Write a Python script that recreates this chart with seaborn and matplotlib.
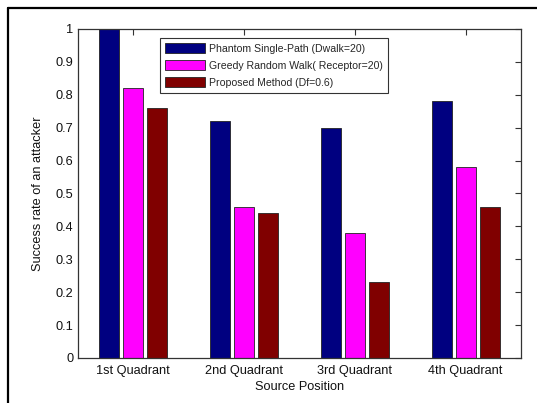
import matplotlib
matplotlib.use("Agg")
import matplotlib.pyplot as plt
from matplotlib.lines import Line2D
import seaborn as sns
import pandas as pd

quadrants = ["1st Quadrant", "2nd Quadrant", "3rd Quadrant", "4th Quadrant"]
methods = ["Phantom Single-Path (Dwalk=20)",
           "Greedy Random Walk( Receptor=20)",
           "Proposed Method (Df=0.6)"]
phantom = [1.00, 0.72, 0.70, 0.78]
greedy = [0.82, 0.46, 0.38, 0.58]
proposed = [0.76, 0.44, 0.23, 0.46]
colors = ["#000080", "#FF00FF", "#800000"]

rows = []
for m, vals in zip(methods, [phantom, greedy, proposed]):
    for q, v in zip(quadrants, vals):
        rows.append({"Source Position": q, "Method": m, "Success": v})
df = pd.DataFrame(rows)

sns.set_style("white")
plt.rcParams["font.family"] = ["Liberation Sans", "DejaVu Sans"]

fig = plt.figure(figsize=(5.37, 4.03), dpi=100)
W, H = 537, 403
ax = fig.add_axes([78 / W, 1 - 358 / H, (521 - 78) / W, (358 - 29) / H])

sns.barplot(data=df, x="Source Position", y="Success", hue="Method",
            palette=colors, saturation=1, width=0.65, gap=0.17, ax=ax,
            edgecolor="#222222", linewidth=0.6, errorbar=None)

ax.set_xlim(-0.5, 3.5)
ax.set_ylim(0, 1)
ax.set_yticks([i / 10 for i in range(11)])
ax.set_yticklabels(["0"] + [f"{i/10:g}" for i in range(1, 10)] + ["1"])
ax.tick_params(direction="in", length=4, width=0.8, labelsize=9.2,
               top=True, right=True, colors="#333333", labelcolor="#111111")
ax.tick_params(axis="x", pad=5)
ax.set_xlabel("Source Position", fontsize=9.2, labelpad=3, color="#111111")
ax.set_ylabel("Success rate of an attacker", fontsize=9.2, labelpad=8, color="#111111")
for s in ax.spines.values():
    s.set_visible(True)
    s.set_color("#333333")
    s.set_linewidth(0.9)

leg = ax.legend(loc="upper left", bbox_to_anchor=((160 - 78) / 443, (358 - 38) / 329),
                borderaxespad=0, fontsize=7.6, frameon=True, fancybox=False,
                edgecolor="black", handlelength=3.8, handleheight=1.1,
                labelspacing=0.6, handletextpad=0.3, borderpad=0.5, title=None)
leg.get_frame().set_linewidth(0.8)

# outer frame lines along the top and left of the figure
fig.add_artist(Line2D([8 / W, 8 / W], [0, 1 - 8 / H], color="black", lw=1.6,
                      transform=fig.transFigure))
fig.add_artist(Line2D([8 / W, 1], [1 - 8 / H, 1 - 8 / H], color="black", lw=1.6,
                      transform=fig.transFigure))

fig.savefig("out.png", dpi=100)
